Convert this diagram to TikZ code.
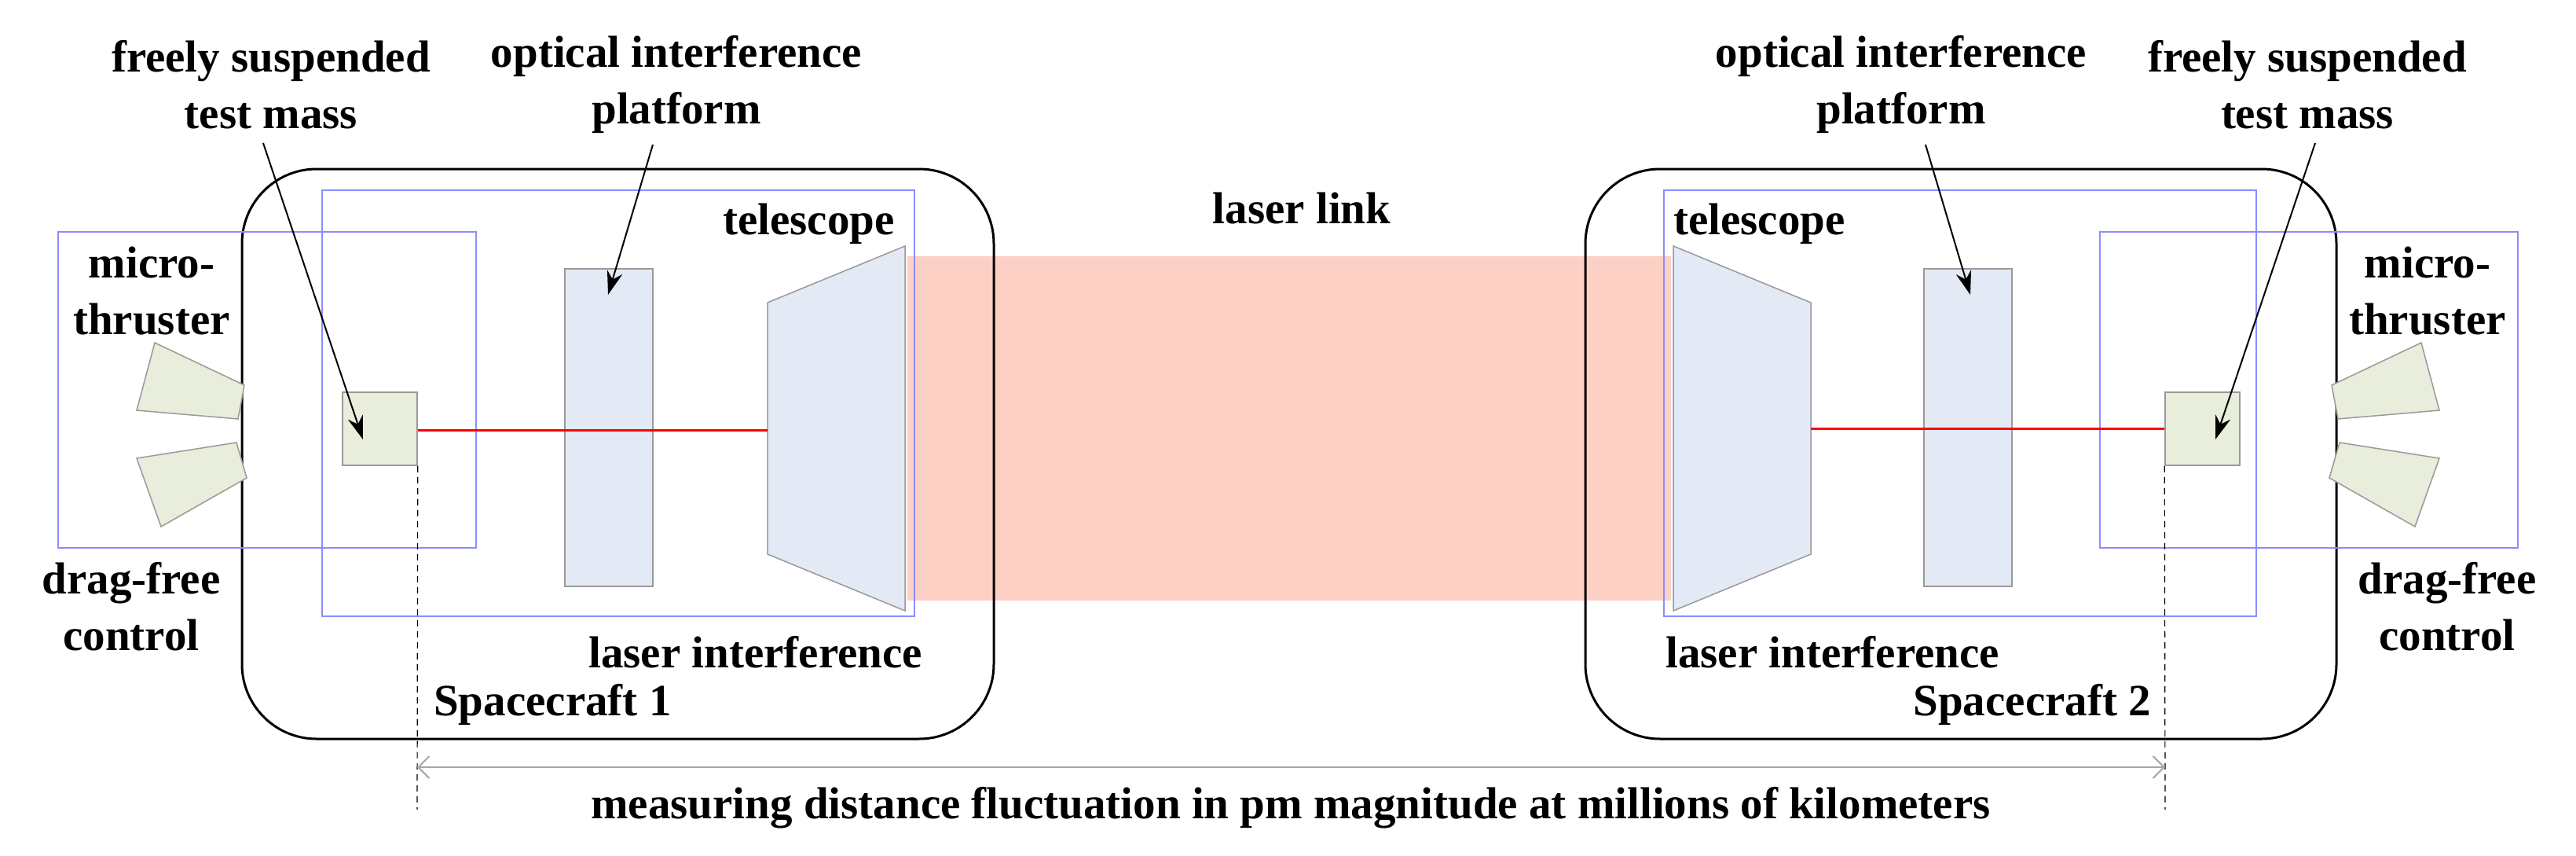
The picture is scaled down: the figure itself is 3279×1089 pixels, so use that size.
\documentclass[tikz,border=0pt]{standalone}
\usepackage{fontspec}
\setmainfont{Liberation Serif}[BoldFont={Liberation Serif Bold}]
\usetikzlibrary{arrows.meta}
\definecolor{beamc}{RGB}{251,196,182}
\definecolor{opticc}{RGB}{227,234,245}
\definecolor{massc}{RGB}{232,237,220}
\begin{document}
\begin{tikzpicture}[x=1pt,y=-1pt,
  lbl/.style={font=\fontsize{57}{72}\selectfont\bfseries,inner sep=0pt,align=center},
  craft/.style={draw=black,line width=3pt,rounded corners=95pt},
  bluebox/.style={draw=blue!45,line width=1.5pt},
  optic/.style={draw=gray!80,fill=opticc,line width=1.5pt},
  mass/.style={draw=gray!80,fill=massc,line width=1.5pt},
  beam/.style={draw=red,line width=3pt},
  pointer/.style={draw=black,line width=2pt,-{Stealth[length=30pt,width=20pt]}}]
\useasboundingbox (0,0) rectangle (3279,1089);
% laser link beam
\fill[beamc,opacity=0.8] (1155,326) rectangle (2127,764);
% ---------- spacecraft 1 ----------
\draw[craft] (308,215) rectangle (1265,940);
\draw[bluebox] (74,295) rectangle (606,697);
\draw[bluebox] (410,242) rectangle (1164,784);
\draw[mass] (197,436) -- (311,490) -- (303,533) -- (174,522) -- cycle;
\draw[mass] (174,583) -- (301,563) -- (314,608) -- (205,670) -- cycle;
\node[mass,minimum width=95pt,minimum height=93pt,inner sep=0pt] (tm1) at (483.5,545.5) {};
\node[optic,minimum width=112pt,minimum height=404pt,inner sep=0pt] (pl1) at (775,544) {};
\draw[optic] (977,385) -- (1152,313) -- (1152,777) -- (977,705) -- cycle;
\coordinate (tel1) at (977,547);
\draw[beam] (tm1.east |- 0,547) -- (tel1);
% ---------- spacecraft 2 ----------
\draw[craft] (2018,215) rectangle (2974,940);
\draw[bluebox] (3205,295) rectangle (2673,697);
\draw[bluebox] (2872,242) rectangle (2118,784);
\draw[mass] (3082,436) -- (2968,490) -- (2976,533) -- (3105,522) -- cycle;
\draw[mass] (3105,583) -- (2978,563) -- (2965,608) -- (3074,670) -- cycle;
\node[mass,minimum width=95pt,minimum height=93pt,inner sep=0pt] (tm2) at (2803.5,545.5) {};
\node[optic,minimum width=112pt,minimum height=404pt,inner sep=0pt] (pl2) at (2505,544) {};
\draw[optic] (2305,385) -- (2130,313) -- (2130,777) -- (2305,705) -- cycle;
\coordinate (tel2) at (2305,545);
\draw[beam] (tel2) -- (tm2.west |- 0,545);
% ---------- labels ----------
\node[lbl] (ft1) at (345,108) {freely suspended\\test mass};
\node[lbl] (op1) at (861,108) {optical interference\\platform};
\node[lbl] (mt1) at (193,370) {micro-\\thruster};
\node[lbl] (df1) at (167,772) {drag-free\\control};
\node[lbl,anchor=west] at (920,285) {telescope};
\node[lbl,anchor=west] at (749,830) {laser interference};
\node[lbl,anchor=west] at (552,896) {Spacecraft 1};
\node[lbl] at (1657,265) {laser link};
\node[lbl] (ft2) at (2937,108) {freely suspended\\test mass};
\node[lbl] (op2) at (2420,108) {optical interference\\platform};
\node[lbl] (mt2) at (3090,370) {micro-\\thruster};
\node[lbl] (df2) at (3115,772) {drag-free\\control};
\node[lbl,anchor=west] at (2130,285) {telescope};
\node[lbl,anchor=west] at (2120,830) {laser interference};
\node[lbl,anchor=east] at (2738,896) {Spacecraft 2};
% pointers
\coordinate (a1) at (462,559);
\coordinate (a2) at (774,375);
\coordinate (a3) at (2820,559);
\coordinate (a4) at (2508,375);
\draw[pointer] (335,182) -- (a1);
\draw[pointer] (831,184) -- (a2);
\draw[pointer] (2947,182) -- (a3);
\draw[pointer] (2451,184) -- (a4);
% measurement
\coordinate (d1) at (531,1030);
\coordinate (d2) at (2756,1030);
\draw[line width=1.2pt,dash pattern=on 8pt off 6pt] (tm1.south east) -- (d1);
\draw[line width=1.2pt,dash pattern=on 8pt off 6pt] (tm2.south west) -- (d2);
\draw[gray!70,line width=2pt,{Straight Barb[length=14pt]}-{Straight Barb[length=14pt]}] (531,976) -- (2756,976);
\node[lbl] at (1643,1028) {measuring distance fluctuation in pm magnitude at millions of kilometers};
\end{tikzpicture}
\end{document}
